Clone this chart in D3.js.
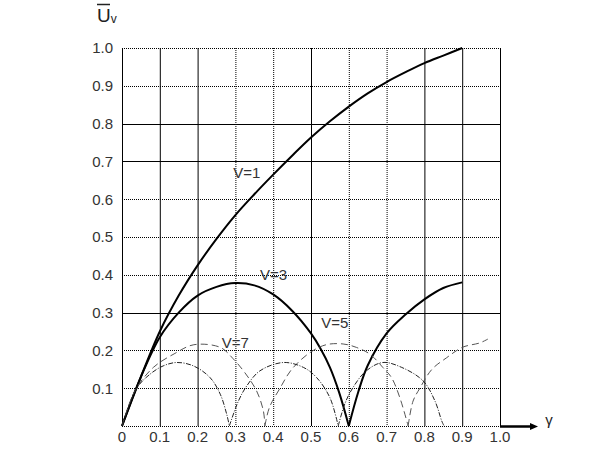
<!DOCTYPE html>
<html><head><meta charset="utf-8">
<script src="https://cdn.jsdelivr.net/npm/d3@7"></script>
<style>
html,body{margin:0;padding:0;background:#fff;}
svg{display:block;font-family:"Liberation Sans",Arial,sans-serif;}
</style></head>
<body><svg id="c" width="600" height="473"></svg>
<script>
// ---- data ----
const xTicks = [0,0.1,0.2,0.3,0.4,0.5,0.6,0.7,0.8,0.9,1.0];
const xTickLabels = ["0","0.1","0.2","0.3","0.4","0.5","0.6","0.7","0.8","0.9","1.0"];
const yTicks = [0.1,0.2,0.3,0.4,0.5,0.6,0.7,0.8,0.9,1.0];
const yTickLabels = ["0.1","0.2","0.3","0.4","0.5","0.6","0.7","0.8","0.9","1.0"];
const seriesNames = ["V=1","V=3","V=5","V=7"];
const v1 = [[0,0],[0.05,0.13],[0.1,0.25],[0.15,0.345],[0.2,0.425],[0.25,0.495],[0.3,0.558],[0.35,0.613],[0.4,0.665],[0.45,0.715],[0.5,0.763],[0.55,0.806],[0.6,0.845],[0.65,0.88],[0.7,0.91],[0.75,0.936],[0.8,0.96],[0.85,0.98],[0.9,1.0]];
const v3 = [[0,0],[0.05,0.13],[0.1,0.235],[0.15,0.30],[0.2,0.345],[0.25,0.368],[0.3,0.378],[0.35,0.372],[0.4,0.348],[0.45,0.305],[0.5,0.245],[0.525,0.205],[0.55,0.155],[0.575,0.087],[0.6,0],
            [0.625,0.09],[0.65,0.16],[0.7,0.245],[0.75,0.295],[0.8,0.335],[0.85,0.365],[0.9,0.38]];
const v5 = [[0,0],[0.034,0.093],[0.083,0.155],[0.14,0.192],[0.19,0.215],[0.26,0.208],[0.294,0.178],[0.325,0.141],[0.356,0.093],[0.374,0.04],[0.378,0],
            [0.39,0.049],[0.418,0.10],[0.449,0.15],[0.497,0.194],[0.54,0.215],[0.585,0.217],[0.62,0.208],[0.656,0.19],[0.69,0.155],[0.713,0.128],[0.735,0.075],[0.757,0],
            [0.77,0.066],[0.788,0.1],[0.82,0.15],[0.858,0.18],[0.9,0.208],[0.947,0.22],[0.968,0.23]];
const v7 = [[0,0],[0.039,0.10],[0.074,0.137],[0.109,0.159],[0.145,0.168],[0.189,0.159],[0.233,0.128],[0.26,0.084],[0.277,0.031],[0.284,0],
            [0.308,0.066],[0.33,0.106],[0.365,0.146],[0.427,0.168],[0.48,0.155],[0.515,0.128],[0.55,0.075],[0.572,0],
            [0.59,0.06],[0.61,0.1],[0.645,0.145],[0.69,0.168],[0.74,0.155],[0.797,0.119],[0.828,0.066],[0.846,0.013],[0.852,0]];
const labelPos = [[0.294,0.656],[0.365,0.386],[0.527,0.26],[0.264,0.206]];

// ---- chart ----
const svg = d3.select("#c");
const x = d3.scaleLinear().domain([0,1]).range([122,500]);
const y = d3.scaleLinear().domain([0,1]).range([426,48]);
const solidV = new Set([0.1,0.2,0.5,0.8,0.9,1.0]);
const solidH = new Set([0.8,0.7,0.3]);
const g = svg.append("g");

// vertical grid
g.selectAll("line.v").data(xTicks.slice(1)).join("line")
  .attr("x1",d=>x(d)+0.5).attr("x2",d=>x(d)+0.5)
  .attr("y1",y(1)).attr("y2",y(0))
  .attr("stroke","#000").attr("stroke-width",1)
  .attr("stroke-dasharray",d=>solidV.has(d)?null:"1,1");
// horizontal grid
g.selectAll("line.h").data([0].concat(yTicks)).join("line")
  .attr("x1",x(0)).attr("x2",x(1))
  .attr("y1",d=>Math.round(y(d))+0.5).attr("y2",d=>Math.round(y(d))+0.5)
  .attr("stroke","#000").attr("stroke-width",1)
  .attr("stroke-dasharray",d=>solidH.has(d)?null:"1,1");
// y axis
g.append("line").attr("x1",x(0)+0.5).attr("x2",x(0)+0.5).attr("y1",y(1)).attr("y2",y(0)+1)
  .attr("stroke","#000").attr("stroke-width",1);
// x axis arrow
g.append("line").attr("x1",x(1)).attr("x2",x(1)+31).attr("y1",y(0)+0.5).attr("y2",y(0)+0.5)
  .attr("stroke","#000").attr("stroke-width",2.5);
g.append("path").attr("d",`M${x(1)+30},${y(0)-3} L${x(1)+38},${y(0)+0.5} L${x(1)+30},${y(0)+4} Z`).attr("fill","#000");

// tick labels
g.selectAll("text.xt").data(xTicks).join("text")
  .attr("x",d=>x(d)).attr("y",y(0)+16).attr("text-anchor","middle")
  .attr("font-size",15).attr("fill","#333").text((d,i)=>xTickLabels[i]);
g.selectAll("text.yt").data(yTicks).join("text")
  .attr("x",x(0)-9).attr("y",d=>y(d)).attr("dy","0.36em").attr("text-anchor","end")
  .attr("font-size",15).attr("fill","#333").text((d,i)=>yTickLabels[i]);

// axis titles
const ut = g.append("text").attr("x",97).attr("y",22).attr("font-size",19).attr("fill","#222");
ut.append("tspan").text("U");
ut.append("tspan").attr("font-size",12).attr("dy",1).text("v");
g.append("line").attr("x1",97).attr("x2",110).attr("y1",4.5).attr("y2",4.5).attr("stroke","#222").attr("stroke-width",1.5);
g.append("text").attr("x",549).attr("y",425).attr("text-anchor","middle").attr("font-size",15).attr("fill","#222").text("γ");

// curves: split into arches at zeros
function arches(pts){
  const out=[]; let cur=[pts[0]];
  for(let i=1;i<pts.length;i++){ cur.push(pts[i]); if(pts[i][1]===0 && i<pts.length-1){ out.push(cur); cur=[pts[i]]; } }
  out.push(cur); return out;
}
const line = d3.line().x(d=>x(d[0])).y(d=>y(d[1])).curve(d3.curveCatmullRom.alpha(0.5));
const styles = [
  {w:2, c:"#000", dash:null},
  {w:2, c:"#000", dash:null},
  {w:1, c:"#555", dash:"7,4"},
  {w:1, c:"#222", dash:"5,1.5,1,1.5"}
];
[v1,v3,v5,v7].forEach((s,i)=>{
  const st=styles[i];
  arches(s).forEach(a=>{
    g.append("path").attr("d",line(a)).attr("fill","none")
      .attr("stroke",st.c).attr("stroke-width",st.w)
      .attr("stroke-dasharray",st.dash);
  });
});
// curve labels
g.selectAll("text.cl").data(seriesNames).join("text")
  .attr("x",(d,i)=>x(labelPos[i][0])).attr("y",(d,i)=>y(labelPos[i][1]))
  .attr("font-size",15).attr("fill","#333").text(d=>d);
</script></body></html>
